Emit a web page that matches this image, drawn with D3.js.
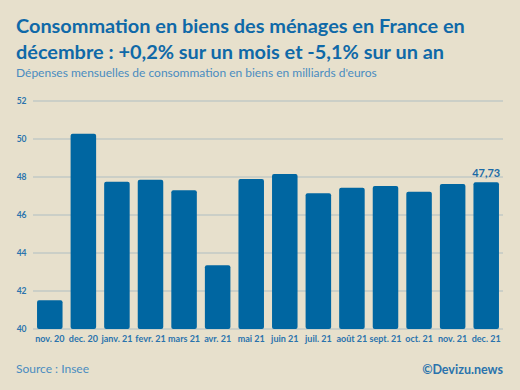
<!DOCTYPE html>
<html>
<head>
<meta charset="utf-8">
<script src="https://cdn.jsdelivr.net/npm/d3@7"></script>
<style>
  body { margin: 0; background: #e7e0cc; }
  svg { display: block; }
  text { font-family: Lato, "Open Sans", sans-serif; }
</style>
</head>
<body>
<svg width="520" height="390"></svg>
<script>
var months = ["nov. 20", "dec. 20", "janv. 21", "fevr. 21", "mars 21", "avr. 21", "mai 21",
              "juin 21", "juil. 21", "août 21", "sept. 21", "oct. 21", "nov. 21", "dec. 21"];
var values = [41.51, 50.28, 47.75, 47.86, 47.3, 43.35, 47.9,
              48.16, 47.14, 47.44, 47.53, 47.23, 47.63, 47.73];
var yTicks = [40, 42, 44, 46, 48, 50, 52];

var svg = d3.select("svg");
var blue = "#0066a1";

svg.append("rect").attr("width", 520).attr("height", 390).attr("fill", "#e7e0cc");

var x = d3.scaleBand()
    .domain(months)
    .range([33, 503])
    .paddingInner(0.24)
    .paddingOuter(0.12);

var y = d3.scaleLinear()
    .domain([40, 52])
    .range([329, 101]);

// grid lines
svg.selectAll(".grid")
    .data(yTicks)
  .enter().append("line")
    .attr("x1", 33).attr("x2", 503)
    .attr("y1", function(d) { return y(d); })
    .attr("y2", function(d) { return y(d); })
    .attr("stroke", "#c2cac6")
    .attr("stroke-width", 1.3);

// y labels
svg.selectAll(".ylab")
    .data(yTicks)
  .enter().append("text")
    .attr("x", 26.5)
    .attr("y", function(d) { return y(d) + 3; })
    .attr("text-anchor", "end")
    .attr("font-size", 8.5)
    .attr("font-weight", "bold")
    .attr("fill", "#2a73ad")
    .text(function(d) { return d; });

// bars
svg.selectAll(".bar")
    .data(values)
  .enter().append("rect")
    .attr("x", function(d, i) { return x(months[i]); })
    .attr("width", x.bandwidth())
    .attr("y", function(d) { return y(d); })
    .attr("height", function(d) { return y(40) - y(d); })
    .attr("rx", 2)
    .attr("fill", blue);

// x labels
svg.selectAll(".xlab")
    .data(months)
  .enter().append("text")
    .attr("x", function(d) { return x(d) + x.bandwidth() / 2; })
    .attr("y", 342)
    .attr("text-anchor", "middle")
    .attr("font-size", 9)
    .attr("font-weight", "bold")
    .attr("fill", "#2a73ad")
    .text(function(d) { return d; });

// last value label
var last = months.length - 1;
svg.append("text")
    .attr("x", x(months[last]) + x.bandwidth() / 2)
    .attr("y", y(values[last]) - 5)
    .attr("text-anchor", "middle")
    .attr("font-size", 11)
    .attr("font-weight", "bold")
    .attr("fill", "#1a6aa6")
    .text(d3.format(".2f")(values[last]).replace(".", ","));

// titles
var title = ["Consommation en biens des ménages en France en",
             "décembre : +0,2% sur un mois et -5,1% sur un an"];
svg.selectAll(".title")
    .data(title)
  .enter().append("text")
    .attr("x", 16)
    .attr("y", function(d, i) { return 33 + i * 26; })
    .attr("font-size", 19.9)
    .attr("font-weight", "bold")
    .attr("fill", "#0f69a8")
    .text(function(d) { return d; });

svg.append("text")
    .attr("x", 16).attr("y", 77)
    .attr("font-size", 12)
    .attr("fill", "#4a8cc0")
    .text("Dépenses mensuelles de consommation en biens en milliards d'euros");

svg.append("text")
    .attr("x", 16).attr("y", 373)
    .attr("font-size", 12)
    .attr("fill", "#4a8cc0")
    .text("Source : Insee");

svg.append("text")
    .attr("x", 503).attr("y", 374)
    .attr("text-anchor", "end")
    .attr("font-size", 12.5)
    .attr("font-weight", "bold")
    .attr("fill", "#2a73ad")
    .text("©Devizu.news");
</script>
</body>
</html>
